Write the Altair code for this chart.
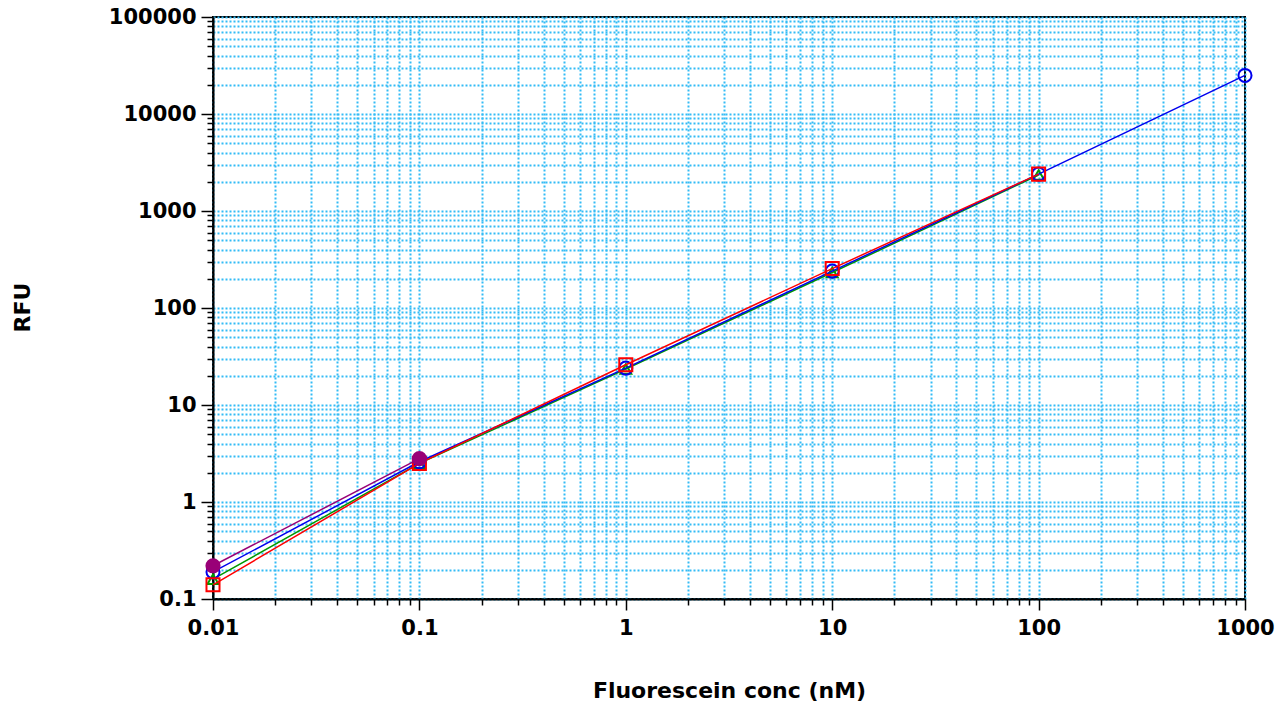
import altair as alt
import pandas as pd

# Concentrations (nM) and measured fluorescence (RFU) per replicate series
conc_full = [0.01, 0.1, 1, 10, 100, 1000]
conc = [0.01, 0.1, 1, 10, 100]
conc_low = [0.01, 0.1]

rfu_blue = [0.19, 2.6, 24, 240, 2400, 25000]
rfu_red = [0.14, 2.5, 26, 255, 2400]
rfu_green = [0.16, 2.5, 23.5, 232, 2350]
rfu_purple = [0.22, 2.8]

# Drawn bottom to top: name, x, y, colour, shape, filled, marker area
series = [
    ("C", conc, rfu_green, "#009900", "triangle-up", False, 120),
    ("A", conc_full, rfu_blue, "#0000ee", "circle", False, 170),
    ("B", conc, rfu_red, "#ff0000", "square", False, 170),
    ("D", conc_low, rfu_purple, "#990077", "circle", True, 230),
]

# Axis tick positions: every 1..9 multiple within each decade
x_ticks = [m * 10.0 ** e for e in range(-2, 3) for m in range(1, 10)] + [1000]
y_ticks = [m * 10.0 ** e for e in range(-1, 5) for m in range(1, 10)] + [100000]

is_decade = "abs(log(datum.value)/LN10 - round(log(datum.value)/LN10)) < 1e-6"

font = "DejaVu Sans"
grid_color = "#33bbf5"

x_scale = alt.Scale(type="log", domain=[0.01, 1000], nice=False)
y_scale = alt.Scale(type="log", domain=[0.1, 100000], nice=False)

common = dict(
    format="~g",
    labelExpr=f"({is_decade}) ? datum.label : ''",
    grid=True,
    gridColor=grid_color,
    gridDash=[2, 2],
    gridWidth=2,
    tickColor="black",
    tickWidth=1.5,
    domainColor="black",
    domainWidth=2,
    labelFont=font,
    labelFontWeight="bold",
    labelFontSize=21,
    labelColor="black",
    labelFlush=False,
    labelOverlap=False,
    titleFont=font,
    titleFontWeight="bold",
    titleFontSize=22,
    titleColor="black",
    titleBaseline="middle",
)

x_axis = alt.Axis(
    values=x_ticks,
    tickSize={"condition": {"test": is_decade, "value": 11}, "value": 6},
    labelPadding=7,
    title="Fluorescein conc (nM)",
    titleX=516,
    titleY=91,
    **common,
)

y_axis = alt.Axis(
    values=y_ticks,
    tickSize={"condition": {"test": is_decade, "value": 12}, "value": 6},
    labelPadding=5,
    title="RFU",
    titleX=-191,
    titleY=290,
    titleAngle=270,
    **common,
)

layers = []
for name, xs, ys, color, shape, filled, area in series:
    df = pd.DataFrame({"conc": xs, "rfu": ys, "series": name})
    base = alt.Chart(df).encode(
        x=alt.X("conc:Q", scale=x_scale, axis=x_axis),
        y=alt.Y("rfu:Q", scale=y_scale, axis=y_axis),
    )
    line = base.mark_line(color=color, strokeWidth=1.5, clip=False)
    pts = base.mark_point(
        shape=shape,
        size=area,
        color=color,
        filled=filled,
        strokeWidth=2,
        opacity=1,
        clip=False,
    )
    layers += [line, pts]

chart = (
    alt.layer(*layers)
    .properties(
        width=1032,
        height=582,
        autosize=alt.AutoSizeParams(type="none"),
        padding={"left": 213, "top": 17, "right": 35, "bottom": 108},
        background="white",
    )
    .configure_view(stroke="black", strokeWidth=2)
)

chart.save("out.html", embed_options={"renderer": "svg", "actions": False})
